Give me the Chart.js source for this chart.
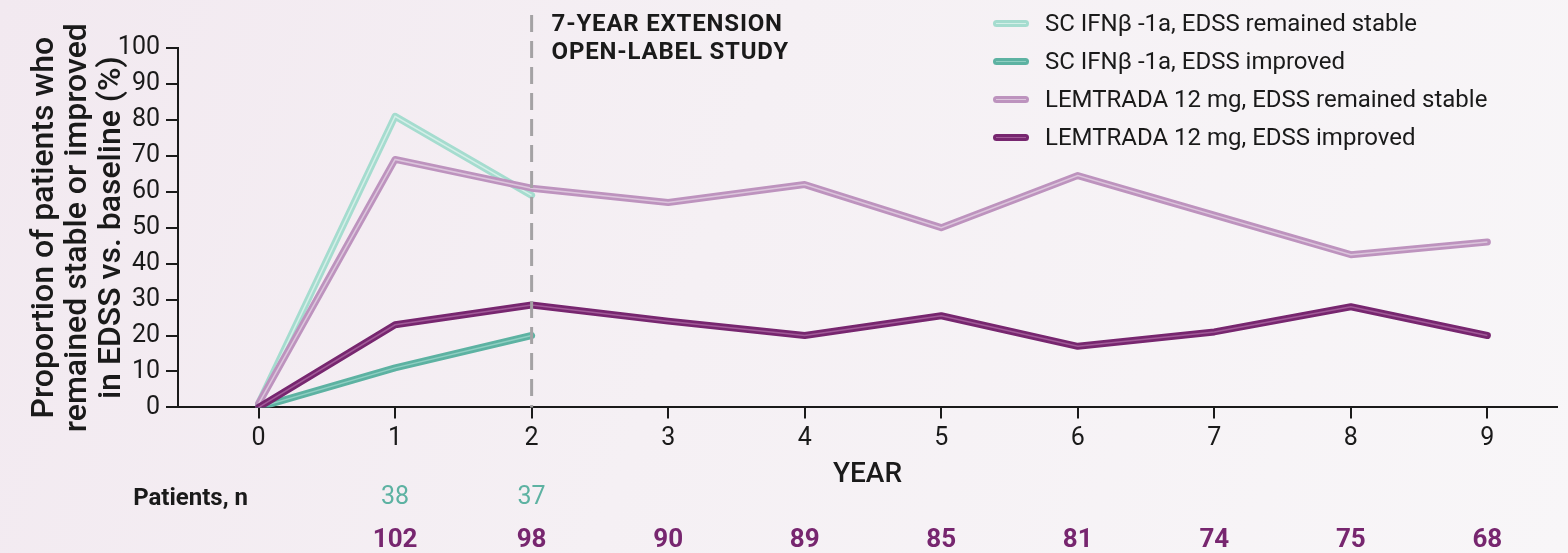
<!DOCTYPE html>
<html>
<head>
<meta charset="utf-8">
<script src="https://cdn.jsdelivr.net/npm/chart.js@4.4.0/dist/chart.umd.min.js"></script>
<style>
  html, body { margin: 0; padding: 0; }
  body {
    width: 1568px; height: 553px; overflow: hidden; position: relative;
    background: linear-gradient(110deg, #f2e9f0 0%, #f5f0f4 45%, #f8f6f8 100%);
    font-family: Roboto, "DejaVu Sans", sans-serif;
  }
  #chart { position: absolute; left: 0; top: 0; }
  #legend { position: absolute; left: 993px; top: 4px; }
  .row { height: 38px; display: flex; align-items: center; font-size: 24px; color: #1a1a1a; }
  .sw { width: 36px; height: 7px; border-radius: 4px; margin-right: 16px; position: relative; }
  .sw::after { content: ""; position: absolute; left: 3px; right: 3px; top: 3px; height: 1px; background: var(--hi); }
</style>
</head>
<body>
<canvas id="chart" width="1568" height="553"></canvas>
<div id="legend"></div>
<script>
// years on the x axis
const years = [0, 1, 2, 3, 4, 5, 6, 7, 8, 9];
const yTicks = [0, 10, 20, 30, 40, 50, 60, 70, 80, 90, 100];

// % of patients
const ifnStable = [1, 81, 59];
const ifnImproved = [0, 11, 20];
const lemStable = [1, 69, 61, 57, 62, 50, 64.5, 53.5, 42.5, 46];
const lemImproved = [0, 23, 28.5, 24, 20, 25.5, 17, 21, 28, 20];

// patients, n
const ifnN = [null, 38, 37];
const lemN = [null, 102, 98, 90, 89, 85, 81, 74, 75, 68];

const seriesLabels = [
  'SC IFNβ -1a, EDSS remained stable',
  'SC IFNβ -1a, EDSS improved',
  'LEMTRADA 12 mg, EDSS remained stable',
  'LEMTRADA 12 mg, EDSS improved'
];
const seriesData = [ifnStable, ifnImproved, lemStable, lemImproved];
const outerColors = ['#a5dccf', '#5db2a2', '#bd93be', '#77266f'];
const innerColors = ['#d4efe8', '#8fcfc2', '#dcc5dc', '#a15a98'];
const drawOrder = [0, 2, 1, 3];

const toPoints = arr => arr.map((v, i) => ({ x: years[i], y: v }));

const datasets = [];
drawOrder.forEach((k, n) => {
  datasets.push({
    label: seriesLabels[k],
    data: toPoints(seriesData[k]),
    borderColor: outerColors[k],
    borderWidth: 7,
    pointRadius: 0,
    borderJoinStyle: 'round',
    borderCapStyle: 'round',
    order: 10 - n * 2
  });
  datasets.push({
    label: '',
    data: toPoints(seriesData[k]),
    borderColor: innerColors[k],
    borderWidth: 1.5,
    pointRadius: 0,
    order: 9 - n * 2
  });
});

const font = 'Roboto, "DejaVu Sans", sans-serif';

const extras = {
  id: 'extras',
  afterDatasetsDraw(chart) {
    const { ctx, chartArea, scales: { x } } = chart;
    const x2 = x.getPixelForValue(2);
    ctx.save();
    // dashed divider at year 2
    ctx.strokeStyle = '#a4a2a4';
    ctx.lineWidth = 3;
    ctx.setLineDash([17, 9]);
    ctx.beginPath();
    ctx.moveTo(x2, 15);
    ctx.lineTo(x2, chartArea.bottom);
    ctx.stroke();
    ctx.setLineDash([]);

    ctx.fillStyle = '#1a1a1a';
    ctx.font = 'bold 24px ' + font;
    ctx.letterSpacing = '0.8px';
    ctx.textAlign = 'left';
    ctx.textBaseline = 'middle';
    ctx.fillText('7-YEAR EXTENSION', x2 + 20, 25);
    ctx.fillText('OPEN-LABEL STUDY', x2 + 20, 53);
    ctx.letterSpacing = '0px';

    // patients rows
    ctx.font = 'bold 24px ' + font;
    ctx.textAlign = 'right';
    ctx.fillText('Patients, n', 248, 499);
    ctx.textAlign = 'center';
    ctx.font = '25px ' + font;
    ctx.fillStyle = '#5db2a2';
    ifnN.forEach((n, i) => { if (n != null) ctx.fillText(n, x.getPixelForValue(years[i]), 498); });
    ctx.font = 'bold 26px ' + font;
    ctx.fillStyle = '#77266f';
    lemN.forEach((n, i) => { if (n != null) ctx.fillText(n, x.getPixelForValue(years[i]), 540); });
    ctx.restore();
  }
};

new Chart(document.getElementById('chart'), {
  type: 'line',
  data: { datasets },
  plugins: [extras],
  options: {
    responsive: false,
    animation: false,
    layout: { padding: { top: 48, right: 11, bottom: 57, left: 28 } },
    plugins: { legend: { display: false }, tooltip: { enabled: false } },
    scales: {
      x: {
        type: 'linear',
        min: -0.59,
        max: 9.51,
        afterBuildTicks: s => { s.ticks = years.map(v => ({ value: v })); },
        border: { color: '#1a1a1a', width: 2 },
        grid: { drawOnChartArea: false, tickLength: 11, color: '#1a1a1a', lineWidth: 2 },
        ticks: { color: '#1a1a1a', font: { family: font, size: 25 }, padding: 5, maxRotation: 0 },
        title: { display: true, text: 'YEAR', color: '#1a1a1a', font: { family: font, size: 28, weight: 500 }, padding: { top: 0 } }
      },
      y: {
        min: 0,
        max: 100,
        afterBuildTicks: s => { s.ticks = yTicks.map(v => ({ value: v })); },
        afterFit: s => { s.width = 150; },
        border: { color: '#1a1a1a', width: 2 },
        grid: { drawOnChartArea: false, tickLength: 12, color: '#1a1a1a', lineWidth: 2 },
        ticks: { color: '#1a1a1a', font: { family: font, size: 25 }, padding: 6 },
        title: {
          display: true,
          text: ['Proportion of patients who', 'remained stable or improved', 'in EDSS vs. baseline (%)'],
          color: '#1a1a1a',
          font: { family: font, size: 32, weight: 500, lineHeight: 1.05 },
          padding: { top: 0, bottom: 0 }
        }
      }
    }
  }
});

// legend
const legend = document.getElementById('legend');
seriesLabels.forEach((label, k) => {
  const row = document.createElement('div');
  row.className = 'row';
  const sw = document.createElement('span');
  sw.className = 'sw';
  sw.style.background = outerColors[k];
  sw.style.setProperty('--hi', innerColors[k]);
  const t = document.createElement('span');
  t.textContent = label;
  row.appendChild(sw);
  row.appendChild(t);
  legend.appendChild(row);
});
</script>
</body>
</html>
